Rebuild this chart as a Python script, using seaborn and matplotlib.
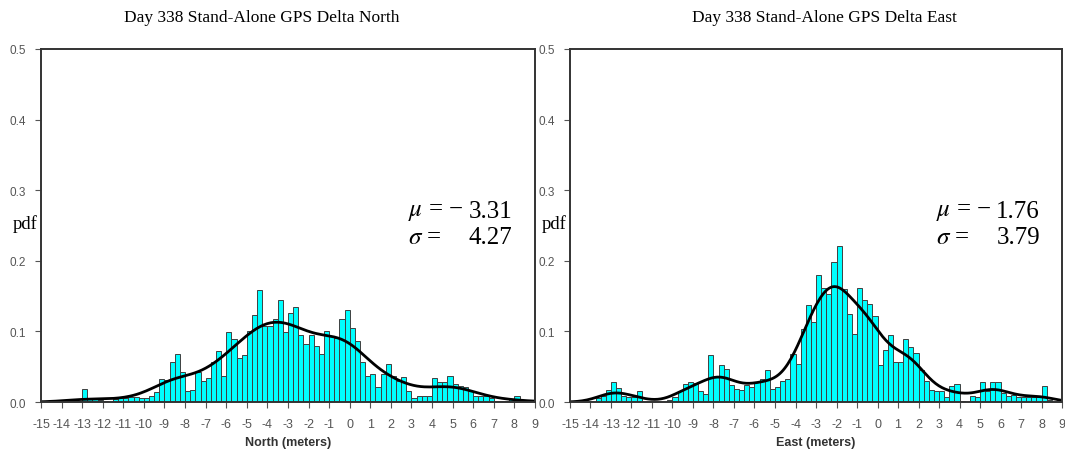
import numpy as np
import pandas as pd
import matplotlib
matplotlib.use("Agg")
import matplotlib.pyplot as plt
import seaborn as sns

# 0.25 m bins from -15 m to 9 m, bar heights (pdf)
bin_width = 0.25
bin_starts = np.arange(-15, 9, bin_width)

north_pdf = [
    0, 0, 0, 0,
    0, 0.001, 0.002, 0.002,
    0.019, 0.004, 0.004, 0.003,
    0.002, 0, 0.004, 0.005,
    0.006, 0.007, 0.007, 0.005,
    0.006, 0.009, 0.014, 0.032,
    0.031, 0.057, 0.068, 0.042,
    0.016, 0.017, 0.042, 0.030,
    0.034, 0.056, 0.072, 0.037,
    0.099, 0.089, 0.063, 0.067,
    0.100, 0.123, 0.158, 0.108,
    0.107, 0.117, 0.145, 0.099,
    0.126, 0.134, 0.095, 0.082,
    0.095, 0.080, 0.068, 0.100,
    0.094, 0.090, 0.117, 0.131,
    0.105, 0.087, 0.056, 0.037,
    0.040, 0.021, 0.040, 0.054,
    0.037, 0.030, 0.036, 0.016,
    0.005, 0.008, 0.008, 0.009,
    0.034, 0.028, 0.028, 0.037,
    0.025, 0.023, 0.021, 0.016,
    0.009, 0.009, 0.008, 0.005,
    0.002, 0.001, 0.002, 0.004,
    0.008, 0.002, 0, 0,
]

east_pdf = [
    0, 0, 0, 0,
    0, 0.005, 0.009, 0.017,
    0.028, 0.020, 0.008, 0.007,
    0.007, 0.015, 0, 0,
    0, 0, 0, 0.003,
    0.007, 0.016, 0.025, 0.029,
    0.027, 0.015, 0.011, 0.066,
    0.035, 0.052, 0.047, 0.024,
    0.018, 0.017, 0.024, 0.021,
    0.029, 0.032, 0.046, 0.018,
    0.021, 0.030, 0.033, 0.068,
    0.054, 0.104, 0.138, 0.113,
    0.180, 0.161, 0.153, 0.199,
    0.221, 0.160, 0.125, 0.096,
    0.161, 0.144, 0.139, 0.122,
    0.052, 0.074, 0.095, 0.057,
    0.056, 0.089, 0.078, 0.069,
    0.046, 0.030, 0.017, 0.016,
    0.016, 0.007, 0.023, 0.026,
    0.002, 0, 0.008, 0.007,
    0.029, 0.016, 0.029, 0.029,
    0.013, 0.009, 0.010, 0.007,
    0.007, 0.007, 0.007, 0.007,
    0.023, 0.003, 0, 0,
]

titles = ["Day 338 Stand-Alone GPS Delta North", "Day 338 Stand-Alone GPS Delta East"]
x_labels = ["North (meters)", "East (meters)"]
mu_values = [-3.31, -1.76]
sigma_values = [4.27, 3.79]
x_ticks = list(range(-15, 10))
y_ticks = [0.0, 0.1, 0.2, 0.3, 0.4, 0.5]

sns.set_style("ticks")
plt.rcParams["font.family"] = ["Liberation Sans", "DejaVu Sans"]
plt.rcParams["mathtext.fontset"] = "stix"

fig = plt.figure(figsize=(10.65, 4.52), dpi=100)
axes = [fig.add_axes([0.0385, 0.1084, 0.4638, 0.781]),
        fig.add_axes([0.5352, 0.1084, 0.4620, 0.781])]
title_x = [262 / 1065, 824 / 1065]
bw_factors = [0.27, 0.18]
serif = "Liberation Serif"

for i, (ax, heights) in enumerate(zip(axes, [north_pdf, east_pdf])):
    df = pd.DataFrame({"x": bin_starts + bin_width / 2, "pdf": heights})
    sns.histplot(data=df, x="x", weights="pdf", binwidth=bin_width, binrange=(-15, 9),
                 stat="count", kde=True,
                 kde_kws={"bw_method": bw_factors[i], "cut": 3, "gridsize": 400},
                 color="#00FFFF", alpha=1.0, edgecolor="#404040", linewidth=0.7,
                 line_kws={"color": "black", "linewidth": 2.0}, ax=ax)
    for ln in ax.get_lines():
        ln.set_color("black")

    ax.set_xlim(-15, 9)
    ax.set_ylim(0, 0.5)
    ax.set_xticks(x_ticks)
    ax.set_xticklabels([str(t) for t in x_ticks])
    ax.set_yticks(y_ticks)
    ax.set_yticklabels([f"{t:.1f}" for t in y_ticks])
    ax.tick_params(axis="x", labelsize=9, colors="#555555", length=4.3, width=0.8, pad=7.5)
    ax.tick_params(axis="y", labelsize=8.5, colors="#555555", length=4.3, width=0.8, pad=6.5)
    ax.set_xlabel(x_labels[i], fontsize=9, fontweight="bold", color="#333333", labelpad=4)
    ax.set_ylabel("")
    for side in ["left", "right", "top", "bottom"]:
        ax.spines[side].set_visible(True)
        ax.spines[side].set_color("#333333")
        ax.spines[side].set_linewidth(1.4)

    ax.text(-0.033, 0.507, "pdf", transform=ax.transAxes, ha="center", va="center",
            family=serif, fontsize=13.5, color="black")

    mu = mu_values[i]
    sign = "\u2212 " if mu < 0 else ""
    ax.text(0.743, 0.54, r"$\mu$ = " + sign, transform=ax.transAxes, ha="left", va="center",
            family=serif, fontsize=18, color="black")
    ax.text(0.955, 0.54, f"{abs(mu):.2f}", transform=ax.transAxes, ha="right", va="center",
            family=serif, fontsize=18, color="black")
    ax.text(0.743, 0.468, r"$\sigma$ =", transform=ax.transAxes, ha="left", va="center",
            family=serif, fontsize=18, color="black")
    ax.text(0.955, 0.468, f"{sigma_values[i]:.2f}", transform=ax.transAxes, ha="right", va="center",
            family=serif, fontsize=18, color="black")

    fig.text(title_x[i], 1 - 18 / 452, titles[i], ha="center", va="center",
             family=serif, fontsize=12.5, color="black")

fig.savefig("out.png", dpi=100)
